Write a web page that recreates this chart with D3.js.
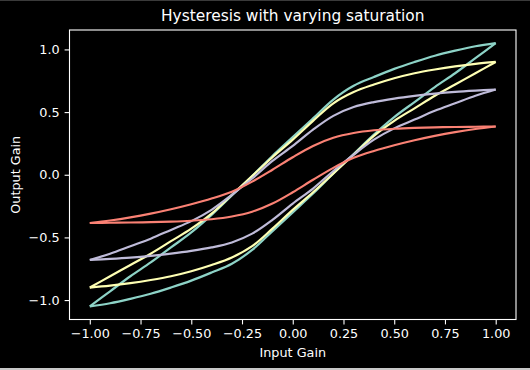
<!DOCTYPE html>
<html>
<head>
<meta charset="utf-8">
<script src="https://cdn.jsdelivr.net/npm/d3@7"></script>
<style>
  body { margin: 0; background: #000; }
  text { font-family: "DejaVu Sans", sans-serif; fill: #fff; }
</style>
</head>
<body>
<div id="chart"></div>
<script>
// input gain sampled every 0.1
var inputGain = [-1.0, -0.9, -0.8, -0.7, -0.6, -0.5, -0.4, -0.3, -0.2, -0.1, 0.0,
                 0.1, 0.2, 0.3, 0.4, 0.5, 0.6, 0.7, 0.8, 0.9, 1.0];

// output gain, upper and lower branch of each loop
var tealUpper = [-1.05, -0.93, -0.81, -0.70, -0.58, -0.46, -0.32, -0.165, -0.01, 0.15, 0.30,
                 0.45, 0.60, 0.71, 0.78, 0.845, 0.90, 0.95, 0.99, 1.025, 1.05];
var tealLower = [-1.05, -1.025, -0.99, -0.95, -0.90, -0.845, -0.78, -0.71, -0.60, -0.45, -0.30,
                 -0.15, 0.01, 0.165, 0.32, 0.46, 0.58, 0.70, 0.81, 0.93, 1.05];

var yellowUpper = [-0.90, -0.81, -0.72, -0.63, -0.53, -0.43, -0.31, -0.16, -0.01, 0.14, 0.28,
                   0.43, 0.57, 0.66, 0.72, 0.77, 0.81, 0.84, 0.865, 0.885, 0.90];
var yellowLower = [-0.90, -0.885, -0.865, -0.84, -0.81, -0.77, -0.72, -0.66, -0.57, -0.43, -0.28,
                   -0.14, 0.01, 0.16, 0.31, 0.43, 0.53, 0.63, 0.72, 0.81, 0.90];

var purpleUpper = [-0.68, -0.63, -0.57, -0.51, -0.44, -0.37, -0.28, -0.16, -0.03, 0.11, 0.23,
                   0.36, 0.47, 0.54, 0.58, 0.608, 0.63, 0.648, 0.662, 0.672, 0.68];
var purpleLower = [-0.68, -0.672, -0.662, -0.648, -0.63, -0.608, -0.58, -0.54, -0.47, -0.36, -0.23,
                   -0.11, 0.03, 0.16, 0.28, 0.37, 0.44, 0.51, 0.57, 0.63, 0.68];

var redUpper = [-0.385, -0.365, -0.34, -0.31, -0.275, -0.235, -0.19, -0.135, -0.055, 0.04, 0.14,
                0.23, 0.295, 0.333, 0.355, 0.367, 0.374, 0.378, 0.381, 0.383, 0.385];
var redLower = [-0.385, -0.383, -0.381, -0.378, -0.374, -0.367, -0.355, -0.333, -0.295, -0.23, -0.14,
                -0.04, 0.055, 0.135, 0.19, 0.235, 0.275, 0.31, 0.34, 0.365, 0.385];

var xTicks = [-1.0, -0.75, -0.5, -0.25, 0.0, 0.25, 0.5, 0.75, 1.0];
var yTicks = [-1.0, -0.5, 0.0, 0.5, 1.0];

var loops = [
    {color: "#8dd3c7", upper: tealUpper, lower: tealLower},
    {color: "#feffb3", upper: yellowUpper, lower: yellowLower},
    {color: "#bfbbd9", upper: purpleUpper, lower: purpleLower},
    {color: "#fa8174", upper: redUpper, lower: redLower}
];

var W = 530, H = 370;
var plotLeft = 69.5, plotRight = 516, plotTop = 30, plotBottom = 319.5;

var svg = d3.select("#chart").append("svg")
    .attr("width", W)
    .attr("height", H)
    .style("display", "block");

svg.append("rect").attr("width", W).attr("height", H).attr("fill", "#000");
// thin frame lines at the picture edges
svg.append("rect").attr("x", 0).attr("y", 0).attr("width", W).attr("height", 1).attr("fill", "#3a3a3a");
svg.append("rect").attr("x", 0).attr("y", 368).attr("width", W).attr("height", 2).attr("fill", "#c8c8c8");

var x = d3.scaleLinear().domain([-1.1, 1.1]).range([plotLeft, plotRight]);
var y = d3.scaleLinear().domain([-1.155, 1.155]).range([plotBottom, plotTop]);

var fmtMinus = function(f) { return function(d) { return d3.format(f)(d).replace("-", "\u2212"); }; };

// x axis
var xAxis = svg.append("g")
    .attr("transform", "translate(0," + plotBottom + ")")
    .call(d3.axisBottom(x).tickValues(xTicks).tickFormat(fmtMinus(".2f")).tickSize(4.9).tickPadding(5));
xAxis.select(".domain").remove();
xAxis.selectAll("line").attr("stroke", "#fff").attr("stroke-width", 1.1);
xAxis.selectAll("text").attr("fill", "#fff").style("font-size", "12.8px").style("font-family", "DejaVu Sans");

// y axis
var yAxis = svg.append("g")
    .attr("transform", "translate(" + plotLeft + ",0)")
    .call(d3.axisLeft(y).tickValues(yTicks).tickFormat(fmtMinus(".1f")).tickSize(4.9).tickPadding(5));
yAxis.select(".domain").remove();
yAxis.selectAll("line").attr("stroke", "#fff").attr("stroke-width", 1.1);
yAxis.selectAll("text").attr("fill", "#fff").style("font-size", "12.8px").style("font-family", "DejaVu Sans");

// the loops, each branch smoothed through the read points
var line = d3.line()
    .x(function(d) { return x(d[0]); })
    .y(function(d) { return y(d[1]); })
    .curve(d3.curveCatmullRom.alpha(0.5));

loops.forEach(function(l) {
    var up = inputGain.map(function(g, i) { return [g, l.upper[i]]; });
    var lo = inputGain.map(function(g, i) { return [g, l.lower[i]]; });
    [up, lo].forEach(function(pts) {
        svg.append("path")
            .datum(pts)
            .attr("fill", "none")
            .attr("stroke", l.color)
            .attr("stroke-width", 2.2)
            .attr("stroke-linejoin", "round")
            .attr("d", line);
    });
});

// spines
svg.append("rect")
    .attr("x", plotLeft).attr("y", plotTop)
    .attr("width", plotRight - plotLeft).attr("height", plotBottom - plotTop)
    .attr("fill", "none").attr("stroke", "#fff").attr("stroke-width", 1.1);

// title and labels
svg.append("text")
    .attr("x", (plotLeft + plotRight) / 2).attr("y", 21)
    .attr("text-anchor", "middle")
    .style("font-size", "15.4px")
    .text("Hysteresis with varying saturation");

svg.append("text")
    .attr("x", (plotLeft + plotRight) / 2).attr("y", 357)
    .attr("text-anchor", "middle")
    .style("font-size", "12.8px")
    .text("Input Gain");

svg.append("text")
    .attr("transform", "translate(20," + ((plotTop + plotBottom) / 2) + ") rotate(-90)")
    .attr("text-anchor", "middle")
    .style("font-size", "12.8px")
    .text("Output Gain");
</script>
</body>
</html>
